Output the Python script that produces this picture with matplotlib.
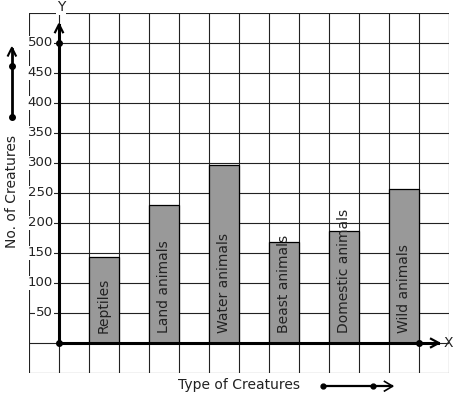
import matplotlib.pyplot as plt
import numpy as np

categories = ['Reptiles', 'Land animals', 'Water animals', 'Beast animals',
              'Domestic animals', 'Wild animals']
counts = [143, 230, 296, 168, 186, 256]
positions = [1.5, 3.5, 5.5, 7.5, 9.5, 11.5]
ytick_values = [50, 100, 150, 200, 250, 300, 350, 400, 450, 500]

W, H = 457, 399
fig = plt.figure(figsize=(W / 100, H / 100), dpi=100)
# grid area in pixels: x 29..449, y 13..373
ax = fig.add_axes([29 / W, (H - 373) / H, 420 / W, 360 / H])
ax.set_xlim(-1, 13)
ax.set_ylim(-50, 550)
ax.axis('off')

# graph paper grid
for gx in range(-1, 14):
    ax.plot([gx, gx], [-50, 550], color='#222222', lw=0.8, zorder=1)
for gy in range(-50, 551, 50):
    ax.plot([-1, 13], [gy, gy], color='#222222', lw=0.8, zorder=1)

# bars
ax.bar(positions, counts, width=1.0, color='#999999', edgecolor='black',
       linewidth=0.9, zorder=2)
for p, name in zip(positions, categories):
    ax.text(p, 17, name, rotation=90, ha='center', va='bottom',
            fontsize=10, color='#222222', zorder=4)

# axes with arrows
ax.plot([0, 0], [0, 530], color='black', lw=2.2, zorder=5, clip_on=False)
ax.plot([-0.13, 0, 0.13], [518, 531, 518], color='black', lw=1.6, zorder=5,
        clip_on=False)
ax.plot([0, 12.63], [0, 0], color='black', lw=2.2, zorder=5, clip_on=False)
ax.plot([12.4, 12.66, 12.4], [-7, 0, 7], color='black', lw=1.6, zorder=5,
        clip_on=False)
ax.plot([0, 0, 12], [0, 500, 0], 'o', color='black', ms=4, zorder=6,
        clip_on=False)

box = dict(facecolor='white', edgecolor='none', pad=0.5)
for v in ytick_values:
    ax.text(-0.2, v, str(v), ha='right', va='center', fontsize=9.5,
            color='#222222', bbox=box, zorder=3)

ax.text(0.07, 560, 'Y', ha='center', va='center', fontsize=10,
        color='#222222', bbox=box, clip_on=False)
ax.text(12.97, 0, 'X', ha='center', va='center', fontsize=10,
        color='#222222', clip_on=False)

# axis titles with arrows
ax.text(-1.57, 253, 'No. of Creatures', rotation=90, ha='center',
        va='center', fontsize=10, color='#222222', clip_on=False)
ax.plot([-1.57, -1.57], [377, 490], color='black', lw=2, clip_on=False)
ax.plot([-1.70, -1.57, -1.44], [479, 492, 479], color='black', lw=1.5,
        clip_on=False)
ax.plot([-1.57, -1.57], [377, 462], 'o', color='black', ms=4, clip_on=False)

ax.text(6.0, -70, 'Type of Creatures', ha='center', va='center',
        fontsize=10, color='#222222', clip_on=False)
ax.plot([8.8, 11.1], [-72, -72], color='black', lw=1.6, clip_on=False)
ax.plot([10.85, 11.12, 10.85], [-64, -72, -80], color='black', lw=1.2,
        clip_on=False)
ax.plot([8.8, 10.47], [-72, -72], 'o', color='black', ms=3.5, clip_on=False)

fig.savefig('out.png', dpi=100, facecolor='white')
